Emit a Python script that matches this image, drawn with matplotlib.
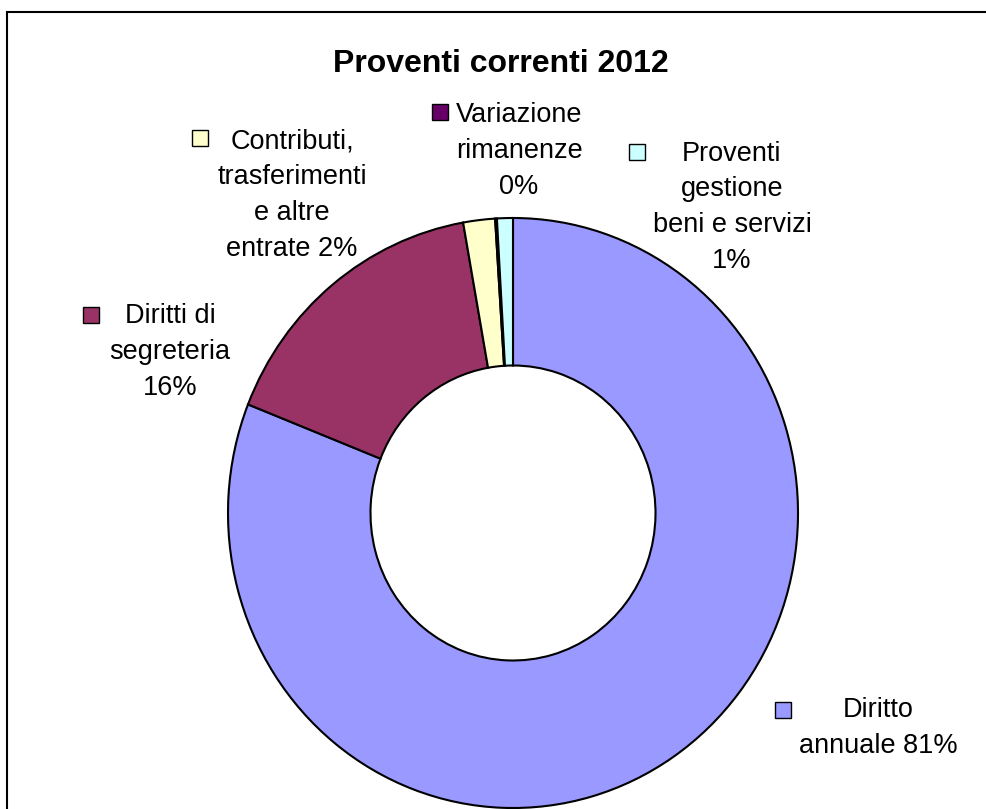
import matplotlib
matplotlib.use("Agg")
import matplotlib.pyplot as plt
from matplotlib.patches import Rectangle

plt.rcParams['font.family'] = ['Liberation Sans', 'DejaVu Sans']

# Dati
categorie = ['Diritto annuale', 'Diritti di segreteria',
             'Contributi, trasferimenti e altre entrate',
             'Variazione rimanenze', 'Proventi gestione beni e servizi']
valori = [81.0, 16.2, 1.8, 0.1, 0.9]
colori = ['#9999FF', '#993366', '#FFFFCC', '#660066', '#CCFFFF']
etichette = ['Diritto\nannuale {}%',
             'Diritti di\nsegreteria\n{}%',
             'Contributi,\ntrasferimenti\ne altre\nentrate {}%',
             'Variazione\nrimanenze\n{}%',
             'Proventi\ngestione\nbeni e servizi\n{}%']

W, H = 986, 809

# posizioni in pixel (centro x, baseline ultima riga) e quadratini legenda
pos_testo = [(878, 753), (170, 395), (292, 256), (519, 194), (732, 268)]
pos_quadrato = [(783, 710), (91, 315), (200, 138), (440, 112), (637, 152)]

fig = plt.figure(figsize=(W / 100, H / 100), dpi=100)

# ciambella leggermente ellittica come nell'originale
cx, cy = 513, 513
rx, ry = 285, 295
ax = fig.add_axes([(cx - 300) / W, 1 - (cy + 310) / H, 600 / W, 620 / H])
ax.pie(valori, colors=colori, startangle=90, counterclock=False, radius=1,
       wedgeprops=dict(width=0.5, edgecolor='black', linewidth=1.5))
ax.set_aspect('auto')
ax.set_xlim(-300 / rx, 300 / rx)
ax.set_ylim(-310 / ry, 310 / ry)
ax.axis('off')

# titolo
fig.text(501 / W, 1 - 72 / H, 'Proventi correnti 2012', ha='center',
         va='baseline', fontsize=23, fontweight='bold')

# etichette con percentuali
totale = sum(valori)
for i in range(len(valori)):
    perc = round(valori[i] / totale * 100)
    x, y = pos_testo[i]
    fig.text(x / W, 1 - y / H, etichette[i].format(perc), ha='center',
             va='baseline', multialignment='center', fontsize=19.5,
             linespacing=1.49)
    qx, qy = pos_quadrato[i]
    s = 16
    fig.add_artist(Rectangle(((qx - s / 2) / W, 1 - (qy + s / 2) / H), s / W, s / H,
                             transform=fig.transFigure, facecolor=colori[i],
                             edgecolor='black', linewidth=1.0))

# cornice (tagliata a destra e in basso)
fig.add_artist(Rectangle((7 / W, -0.1), 1.2, 1 - 12 / H + 0.1,
                         transform=fig.transFigure, fill=False,
                         edgecolor='black', linewidth=1.5))

plt.savefig('out.png', dpi=100)
